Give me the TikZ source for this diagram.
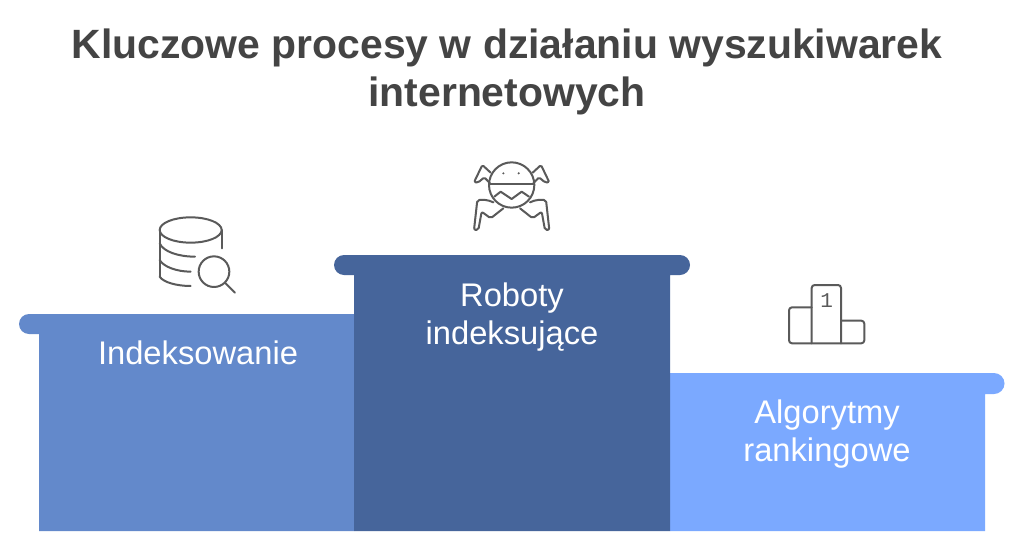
\documentclass[tikz,border=0pt]{standalone}
\usepackage{fontspec}
\setmainfont{Liberation Sans}
\newfontfamily\monoone{Liberation Mono}
\definecolor{ink}{HTML}{444444}
\definecolor{icon}{HTML}{5A5A5A}
\definecolor{barA}{HTML}{6389CB}
\definecolor{barB}{HTML}{46659B}
\definecolor{barC}{HTML}{7BA9FF}
\tikzset{
  titletext/.style={text=ink,font=\fontsize{40.9}{48}\selectfont\bfseries,align=center,inner sep=0pt},
  bartext/.style={text=white,font=\fontsize{32.7}{38.5}\selectfont,align=center,inner sep=0pt},
  iconline/.style={draw=icon,line width=2pt,line join=round,line cap=round,fill=none}
}
\begin{document}
\begin{tikzpicture}[x=1pt,y=-1pt]
\useasboundingbox (0,0) rectangle (1024,551);
\fill[white] (0,0) rectangle (1024,551);
\node[titletext] (title) at (507,72) {Kluczowe procesy w działaniu wyszukiwarek\\internetowych};
% left
\fill[barA] (39,531) -- (39,334) -- (29,334) arc[start angle=90,end angle=270,radius=10] -- (354,314) -- (354,531) -- cycle;
% right
\fill[barC] (670,531) -- (670,373) -- (994,373) arc[start angle=-90,end angle=90,radius=10.5] -- (985,394) -- (985,531) -- cycle;
% middle
\fill[barB] (354,531) -- (354,275) -- (344,275) arc[start angle=90,end angle=270,radius=10] -- (680,255) arc[start angle=-90,end angle=90,radius=10] -- (670,275) -- (670,531) -- cycle;
\node[bartext] (lab1) at (198,353) {Indeksowanie};
\node[bartext] (lab2) at (512,317) {Roboty\\indeksujące};
\node[bartext] (lab3) at (827,434) {Algorytmy\\rankingowe};
% spider
\begin{scope}[shift={(450,150)},x=0.3333pt,y=-0.3333pt]
\draw[iconline] (185,105) circle[radius=68];
\draw[iconline] (118,102) -- (252,102);
\draw[iconline] (133,140) -- (152,125) -- (185,147) -- (215,125) -- (237,140);
\fill[icon] (160,70) circle[radius=3.5] (206,70) circle[radius=3.5];
\draw[iconline,rounded corners=1.5pt] (122,68) -- (97,45) -- (72,97) -- (85,97) -- (103,82) -- (120,100);
\draw[iconline,rounded corners=1.5pt] (248,68) -- (273,45) -- (298,97) -- (285,97) -- (267,82) -- (250,100);
\draw[iconline,rounded corners=2pt] (130,157) -- (112,150) -- (82,150) -- (72,240) -- (85,240) -- (95,185) -- (122,205) -- (160,175);
\draw[iconline,rounded corners=2pt] (240,157) -- (258,150) -- (288,150) -- (298,240) -- (285,240) -- (275,185) -- (248,205) -- (210,175);
\end{scope}
% database
\begin{scope}[shift={(140,205)},x=0.3333pt,y=-0.3333pt]
\draw[iconline] (152,75) ellipse[x radius=93,y radius=38];
\draw[iconline] (59,75) -- (59,215);
\draw[iconline] (245,75) -- (245,130);
\draw[iconline] (59,115) .. controls (70,140) and (115,155) .. (165,155);
\draw[iconline] (59,165) .. controls (70,185) and (110,200) .. (152,200);
\draw[iconline] (59,215) .. controls (70,232) and (110,243) .. (152,243);
\draw[iconline] (222,200) circle[radius=46];
\draw[iconline] (255,233) -- (285,263);
\end{scope}
% podium
\begin{scope}[shift={(770,275)},x=0.3333pt,y=-0.3333pt]
\draw[iconline,rounded corners=3pt] (125,97) -- (57,97) -- (57,205) -- (283,205) -- (283,137) -- (213,137);
\draw[iconline,rounded corners=3pt] (125,205) -- (125,30) -- (213,30) -- (213,205);
\node[text=icon,font=\monoone\fontsize{21}{21}\selectfont,inner sep=0pt] (one) at (170,78) {1};
\end{scope}
\end{tikzpicture}
\end{document}
